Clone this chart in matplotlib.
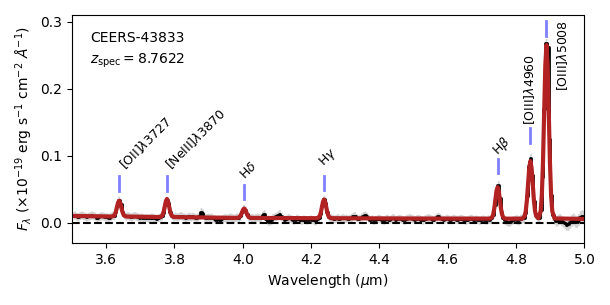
import numpy as np
import matplotlib
matplotlib.use("Agg")
import matplotlib.pyplot as plt

# observed spectrum, 0.005 um pixels from 3.5 to 5.0 (flux in 1e-3 units of 1e-19 erg/s/cm2/A)
pix_start, pix_stop, pix_step = 3.5025, 5.0, 0.005
flux_rows = [
    [11, 12, 10, 9, 11, 12, 11, 10, 9, 10, 11, 12, 11, 10, 8, 9, 10, 11, 10, 9],   # 3.50
    [9, 8, 10, 11, 11, 16, 26, 34, 28, 17, 12, 10, 11, 10, 9, 10, 11, 10, 9, 8],    # 3.60
    [9, 8, 7, 8, 7, 8, 9, 8, 7, 6, 8, 9, 10, 15, 27, 34, 30, 17, 11, 9],            # 3.70
    [10, 9, 10, 11, 10, 9, 8, 9, 10, 9, 10, 9, 8, 9, 11, 17, 15, 9, 8, 9],          # 3.80
    [8, 9, 7, 6, 5, 6, 5, 6, 7, 8, 7, 8, 9, 8, 7, 8, 9, 8, 10, 16],                 # 3.90
    [21, 19, 13, 9, 8, 8, 7, 8, 9, 8, 7, 12, 14, 6, 3, 2, 4, 8, 9, 10],             # 4.00
    [12, 14, 10, 7, 5, 6, 8, 7, 6, 4, 5, 7, 6, 5, 4, 6, 5, 4, 5, 6],                # 4.10
    [5, 4, 3, 6, 8, 14, 26, 35, 29, 16, 9, 8, 7, 6, 7, 8, 6, 7, 8, 7],              # 4.20
    [7, 6, 7, 8, 10, 11, 8, 6, 7, 9, 11, 12, 10, 7, 5, 6, 4, 5, 6, 7],              # 4.30
    [6, 5, 4, 6, 7, 5, 6, 8, 7, 5, 6, 7, 6, 5, 4, 6, 7, 8, 7, 6],                   # 4.40
    [5, 6, 7, 6, 5, 4, 6, 7, 8, 7, 6, 5, 7, 9, 10, 8, 6, 5, 6, 7],                  # 4.50
    [6, 5, 6, 7, 6, 5, 6, 7, 6, 5, 4, 5, 6, 7, 6, 5, 6, 5, 4, 5],                   # 4.60
    [6, 5, 4, 6, 5, 7, 12, 27, 50, 57, 37, 16, 8, 4, 2, 1, 2, 4, 5, 6],             # 4.70
    [5, 4, 6, 7, 7, 15, 40, 85, 97, 71, 33, 13, 7, 8, 20, 68, 170, 268, 262, 125],  # 4.80
    [42, 12, 6, 3, 5, 6, 4, 2, 0, -3, -2, 1, 4, 6, 3, 2, 5, 9, 11, 10],             # 4.90
]
# 1-sigma error per 0.05 um block (1e-3 units)
err_blocks = [6, 6, 6, 6, 6, 6, 6, 6, 6, 6,
              6, 6, 6, 6, 6, 6, 6, 6, 6, 6,
              6, 6, 6, 6, 6, 6, 7, 7, 8, 9]

# best-fit model (red)
model_wave = [3.500,
              3.6163, 3.6225, 3.6256, 3.6287, 3.6318, 3.6349, 3.638, 3.6411, 3.6442, 3.6473, 3.6504, 3.6535, 3.6597,
              3.7563, 3.7625, 3.7656, 3.7687, 3.7718, 3.7749, 3.778, 3.7811, 3.7842, 3.7873, 3.7904, 3.7935, 3.7997,
              3.9823, 3.9885, 3.9916, 3.9947, 3.9978, 4.0009, 4.004, 4.0071, 4.0102, 4.0133, 4.0164, 4.0195, 4.0257,
              4.2163, 4.2225, 4.2256, 4.2287, 4.2318, 4.2349, 4.238, 4.2411, 4.2442, 4.2473, 4.2504, 4.2535, 4.2597,
              4.500,
              4.7232, 4.7297, 4.733, 4.7362, 4.7395, 4.7427, 4.746, 4.7493, 4.7525, 4.7558, 4.759, 4.7623, 4.7688,
              4.8182, 4.825, 4.8284, 4.8318, 4.8352, 4.8386, 4.842, 4.8454, 4.8488, 4.8522, 4.8556, 4.859,
              4.8658,
              4.872, 4.8754, 4.8788, 4.8822, 4.8856, 4.889, 4.8924, 4.8958, 4.8992, 4.9026, 4.906, 4.9128,
              5.000]
model_flux = [10.5,
              9.6, 10.6, 12.8, 17.2, 23.9, 30.3, 33.1, 30.3, 23.9, 17.2, 12.8, 10.6, 9.6,
              8.8, 9.9, 12.3, 17.5, 25.1, 32.5, 35.7, 32.5, 25.1, 17.5, 12.3, 9.9, 8.8,
              7.5, 8.1, 9.4, 12.1, 16.0, 19.8, 21.5, 19.8, 16.0, 12.1, 9.4, 8.1, 7.5,
              7.1, 8.2, 10.8, 16.1, 24.0, 31.7, 35.0, 31.7, 24.0, 16.1, 10.8, 8.2, 7.1,
              6.6,
              6.4, 8.4, 12.6, 21.6, 34.8, 47.8, 53.3, 47.8, 34.8, 21.6, 12.6, 8.4, 6.4,
              6.4, 10.0, 17.8, 34.2, 58.4, 82.1, 92.2, 82.1, 58.4, 34.2, 17.8, 10.0,
              7.2,
              17.5, 41.1, 90.3, 163.3, 234.5, 265.1, 234.5, 163.3, 90.3, 41.1, 17.5, 6.7,
              6.0]

# emission line marks
line_names = ["[OII]$\\lambda$3727", "[NeIII]$\\lambda$3870", "H$\\delta$", "H$\\gamma$",
              "H$\\beta$", "[OIII]$\\lambda$4960", "[OIII]$\\lambda$5008"]
line_wave = [3.638, 3.778, 4.004, 4.238, 4.746, 4.842, 4.889]
mark_lo = [0.048, 0.048, 0.035, 0.0485, 0.074, 0.119, 0.279]
label_x = [3.645, 3.781, 3.997, 4.231, 4.739, 4.840, 4.936]
label_y = [0.084, 0.084, 0.068, 0.088, 0.105, 0.146, 0.196]
label_rot = [45, 45, 45, 45, 45, 90, 90]

wave = np.arange(pix_start, pix_stop, pix_step)
flux = np.concatenate(flux_rows) * 1e-3
err = np.repeat(err_blocks, 10) * 1e-3
mwave = np.array(model_wave)
mflux = np.array(model_flux) * 1e-3

fig = plt.figure(figsize=(6.1, 3.05), dpi=100)
ax = fig.add_axes([0.118, 0.203, 0.840, 0.748])

ax.fill_between(wave, flux - err, flux + err, step="mid", color="gray", alpha=0.35, lw=0)
ax.step(wave, flux, where="mid", color="k", lw=2)
ax.plot(mwave, mflux, color="firebrick", lw=3)
ax.axhline(0, color="k", ls="--", lw=1.5)

for i in range(len(line_wave)):
    ax.plot([line_wave[i], line_wave[i]], [mark_lo[i], mark_lo[i] + 0.022],
            color="blue", alpha=0.5, lw=2)
    ax.text(label_x[i], label_y[i], line_names[i], rotation=label_rot[i],
            rotation_mode="anchor", ha="left", va="center", fontsize=9)

ax.text(0.035, 0.93, "CEERS-43833", transform=ax.transAxes, fontsize=10, va="top")
ax.text(0.035, 0.84, "$z_{\\rm spec} = 8.7622$", transform=ax.transAxes, fontsize=10, va="top")

ax.set_xlim(3.5, 5.0)
ax.set_ylim(-0.03, 0.31)
ax.set_xticks([3.6, 3.8, 4.0, 4.2, 4.4, 4.6, 4.8, 5.0])
ax.set_yticks([0.0, 0.1, 0.2, 0.3])
ax.tick_params(labelsize=10)
ax.set_xlabel("Wavelength ($\\mu$m)", fontsize=10)
ax.set_ylabel("$F_\\lambda$ ($\\times10^{-19}$ erg s$^{-1}$ cm$^{-2}$ $\\AA^{-1}$)", fontsize=10)

fig.savefig("out.png", dpi=100)
